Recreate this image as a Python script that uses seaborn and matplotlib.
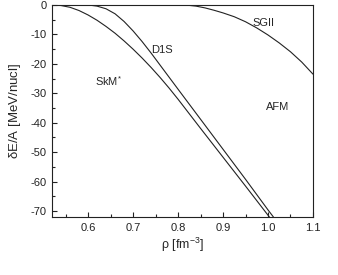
import numpy as np
import pandas as pd
import matplotlib
matplotlib.use('Agg')
import matplotlib.pyplot as plt
import seaborn as sns
from matplotlib.ticker import MultipleLocator

# === Data ===
rho_skm = [0.52, 0.54, 0.56, 0.58, 0.60, 0.62, 0.64, 0.66, 0.68, 0.70, 0.72, 0.74,
           0.76, 0.78, 0.80, 0.85, 0.90, 0.95, 1.00, 1.005]
e_skm = [0.0, -0.2, -0.8, -1.9, -3.4, -5.2, -7.3, -9.6, -12.2, -15.0, -18.0, -21.2,
         -24.6, -28.2, -32.0, -41.9, -51.7, -61.5, -71.4, -72.4]

rho_d1s = [0.60, 0.62, 0.64, 0.66, 0.68, 0.70, 0.72, 0.74, 0.76, 0.78, 0.80, 0.85,
           0.90, 0.95, 1.00, 1.012]
e_d1s = [0.0, -0.4, -1.3, -3.0, -5.6, -8.8, -12.4, -16.3, -20.4, -24.5, -28.6, -38.8,
         -49.0, -59.2, -69.6, -72.0]

rho_sgii = [0.815, 0.84, 0.86, 0.88, 0.90, 0.925, 0.95, 0.975, 1.00, 1.025, 1.05, 1.075, 1.10]
e_sgii = [0.0, -0.4, -1.0, -1.8, -2.7, -4.0, -5.7, -7.8, -10.2, -12.9, -15.9, -19.4, -23.5]

df = pd.concat([
    pd.DataFrame({'rho': rho_skm, 'E': e_skm, 'model': 'SkM*'}),
    pd.DataFrame({'rho': rho_d1s, 'E': e_d1s, 'model': 'D1S'}),
    pd.DataFrame({'rho': rho_sgii, 'E': e_sgii, 'model': 'SGII'}),
])

# === Style ===
sns.set_theme(style='ticks')
plt.rcParams['font.family'] = ['Liberation Sans', 'DejaVu Sans']
plt.rcParams['mathtext.fontset'] = 'custom'
plt.rcParams['mathtext.rm'] = 'Liberation Sans'
plt.rcParams['mathtext.it'] = 'Liberation Sans:italic'
plt.rcParams['mathtext.default'] = 'regular'
plt.rcParams['axes.unicode_minus'] = False

fig = plt.figure(figsize=(3.38, 2.75), dpi=100)
ax = fig.add_axes([0.154, 0.211, 0.772, 0.771])

sns.lineplot(data=df, x='rho', y='E', hue='model', units='model', estimator=None,
             sort=False, palette={'SkM*': '#222222', 'D1S': '#222222', 'SGII': '#222222'},
             linewidth=0.8, legend=False, ax=ax)

ax.set_xlim(0.52, 1.1)
ax.set_ylim(-72, 0)
ax.xaxis.set_major_locator(MultipleLocator(0.1))
ax.xaxis.set_minor_locator(MultipleLocator(0.05))
ax.yaxis.set_major_locator(MultipleLocator(10))
ax.yaxis.set_minor_locator(MultipleLocator(5))
ax.tick_params(which='both', direction='in', top=False, right=False, labelsize=8,
               colors='#222222', width=0.8)
ax.tick_params(which='major', length=3.5, pad=4)
ax.tick_params(which='minor', length=2)
for s in ax.spines.values():
    s.set_linewidth(0.8)
    s.set_color('#222222')

ax.set_xlabel(r'$\rho$ [fm$^{-3}$]', fontsize=9, labelpad=2)
ax.set_ylabel(r'$\delta$E/A [MeV/nucl]', fontsize=9.5, labelpad=5)

# curve labels
ax.text(0.99, -6.1, 'SGII', fontsize=8, ha='center', va='center')
ax.text(0.765, -15.2, 'D1S', fontsize=8, ha='center', va='center')
ax.text(0.645, -26.0, r'SkM$^{*}$', fontsize=8, ha='center', va='center')
ax.text(1.022, -34.8, 'AFM', fontsize=8, ha='center', va='center')

plt.savefig('out.png', dpi=100)
plt.close()
